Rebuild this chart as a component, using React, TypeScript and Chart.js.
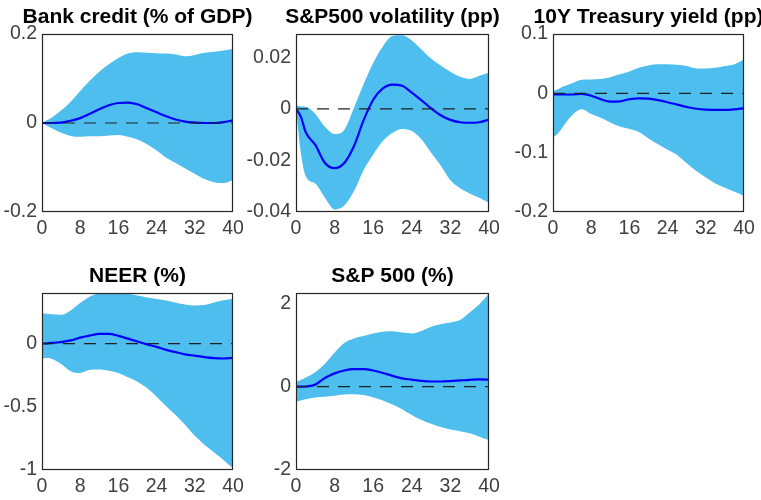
import React, { useEffect, useRef } from 'react';
import { Chart, registerables } from 'chart.js';

Chart.register(...registerables);

// ---------- data ----------
const HORIZONS = [0, 1, 2, 4, 6, 8, 10, 12, 14, 16, 18, 20, 22, 24, 26, 28, 30, 32, 34, 36, 38, 40];
const X_TICKS = [0, 8, 16, 24, 32, 40];

const bankMedian = [0, 0, 0, 0.001, 0.005, 0.011, 0.021, 0.031, 0.040, 0.045, 0.046, 0.042, 0.033, 0.024, 0.015, 0.008, 0.003, 0.001, 0, 0, 0.002, 0.006];
const bankUpper = [0, 0.006, 0.012, 0.028, 0.048, 0.072, 0.095, 0.115, 0.132, 0.146, 0.156, 0.159, 0.158, 0.157, 0.156, 0.154, 0.150, 0.153, 0.158, 0.160, 0.163, 0.167];
const bankLower = [0, -0.006, -0.012, -0.022, -0.029, -0.031, -0.030, -0.030, -0.028, -0.027, -0.031, -0.037, -0.048, -0.062, -0.078, -0.090, -0.102, -0.114, -0.126, -0.133, -0.135, -0.128];
const bankTicks = [-0.2, 0, 0.2];

const volMedian = [0, -0.003, -0.009, -0.014, -0.021, -0.023, -0.021, -0.0145, -0.0045, 0.0035, 0.0079, 0.0094, 0.0089, 0.0063, 0.0033, 0.0002, -0.0025, -0.0043, -0.0052, -0.0054, -0.0052, -0.0042];
const volUpper = [0.0013, 0.0009, 0.0008, -0.002, -0.007, -0.0098, -0.0082, 0.0003, 0.0095, 0.0178, 0.0242, 0.0282, 0.0285, 0.0265, 0.0230, 0.0195, 0.0168, 0.0144, 0.0124, 0.0116, 0.0128, 0.0141];
const volLower = [0, -0.017, -0.026, -0.029, -0.0345, -0.039, -0.0375, -0.032, -0.0238, -0.0177, -0.0125, -0.0093, -0.0078, -0.0086, -0.0118, -0.017, -0.022, -0.0277, -0.0308, -0.0328, -0.0345, -0.0364];
const volTicks = [-0.04, -0.02, 0, 0.02];

const yieldMedian = [-0.002, -0.002, -0.002, -0.002, -0.001, -0.004, -0.010, -0.014, -0.0135, -0.010, -0.0085, -0.009, -0.0115, -0.015, -0.019, -0.023, -0.026, -0.0275, -0.028, -0.028, -0.027, -0.025];
const yieldUpper = [0.004, 0.007, 0.011, 0.017, 0.023, 0.0235, 0.024, 0.027, 0.032, 0.037, 0.043, 0.047, 0.049, 0.049, 0.048, 0.046, 0.042, 0.042, 0.043, 0.046, 0.049, 0.057];
const yieldLower = [-0.074, -0.068, -0.057, -0.037, -0.027, -0.035, -0.041, -0.049, -0.056, -0.060, -0.065, -0.076, -0.086, -0.095, -0.104, -0.118, -0.131, -0.142, -0.152, -0.159, -0.166, -0.173];
const yieldTicks = [-0.2, -0.1, 0, 0.1];

const neerMedian = [0, 0.002, 0.005, 0.012, 0.025, 0.047, 0.063, 0.076, 0.076, 0.061, 0.039, 0.016, -0.006, -0.026, -0.05, -0.068, -0.085, -0.096, -0.107, -0.115, -0.118, -0.113];
const neerUpper = [0.237, 0.236, 0.232, 0.228, 0.262, 0.32, 0.37, 0.398, 0.402, 0.400, 0.394, 0.38, 0.364, 0.352, 0.34, 0.323, 0.31, 0.302, 0.305, 0.325, 0.342, 0.355];
const neerLower = [-0.118, -0.115, -0.12, -0.162, -0.218, -0.232, -0.208, -0.205, -0.215, -0.232, -0.267, -0.302, -0.352, -0.42, -0.495, -0.565, -0.645, -0.73, -0.80, -0.86, -0.92, -0.987];
const neerTicks = [-1, -0.5, 0];

const spMedian = [0, 0, 0.005, 0.05, 0.21, 0.32, 0.39, 0.42, 0.42, 0.39, 0.33, 0.26, 0.2, 0.17, 0.14, 0.125, 0.125, 0.135, 0.15, 0.165, 0.175, 0.17];
const spUpper = [0.12, 0.16, 0.22, 0.35, 0.55, 0.82, 1.05, 1.16, 1.22, 1.28, 1.32, 1.33, 1.3, 1.28, 1.34, 1.44, 1.5, 1.54, 1.6, 1.78, 1.98, 2.24];
const spLower = [-0.36, -0.33, -0.3, -0.26, -0.24, -0.22, -0.19, -0.18, -0.2, -0.26, -0.33, -0.43, -0.54, -0.68, -0.8, -0.89, -0.97, -1.03, -1.07, -1.12, -1.2, -1.28];
const spTicks = [-2, 0, 2];

// ---------- panels ----------
const PANELS = [
  { title: 'Bank credit (% of GDP)', median: bankMedian, upper: bankUpper, lower: bankLower, ticks: bankTicks, yMin: -0.2, yMax: 0.2, box: [42, 34, 233, 212] },
  { title: 'S&P500 volatility (pp)', median: volMedian, upper: volUpper, lower: volLower, ticks: volTicks, yMin: -0.04, yMax: 0.029, box: [296, 34, 489, 212] },
  { title: '10Y Treasury yield (pp)', median: yieldMedian, upper: yieldUpper, lower: yieldLower, ticks: yieldTicks, yMin: -0.2, yMax: 0.1, box: [553, 34, 744, 212] },
  { title: 'NEER (%)', median: neerMedian, upper: neerUpper, lower: neerLower, ticks: neerTicks, yMin: -1, yMax: 0.4, box: [42, 293, 233, 470] },
  { title: 'S&P 500 (%)', median: spMedian, upper: spUpper, lower: spLower, ticks: spTicks, yMin: -2, yMax: 2.25, box: [296, 293, 489, 470] },
];

const ML = 70, MT = 40, MR = 40, MB = 40;
const Y_AXIS_W = 50, X_AXIS_H = 30;
const FONT = '"Liberation Sans", Arial, Helvetica, sans-serif';
const BAND = '#4DBEEE';
const LINE = '#0000FF';
const AXIS = '#262626';
const TICK_TEXT = '#404040';

const framePlugin = {
  id: 'frameTitle',
  afterDraw(chart: any, _args: any, opts: any) {
    const { ctx, chartArea } = chart;
    const { left, top, right, bottom } = chartArea;
    ctx.save();
    ctx.strokeStyle = AXIS;
    ctx.lineWidth = 1.2;
    ctx.strokeRect(Math.round(left) + 0.5, Math.round(top) + 0.5, Math.round(right - left) - 1, Math.round(bottom - top) - 1);
    ctx.fillStyle = '#000';
    ctx.font = `bold 21px ${FONT}`;
    ctx.textAlign = 'center';
    ctx.textBaseline = 'middle';
    ctx.fillText(opts.text, (left + right) / 2, top - 17);
    ctx.restore();
  },
};

function Panel({ p }: { p: typeof PANELS[number] }) {
  const ref = useRef<HTMLCanvasElement>(null);
  const [x0, y0, x1, y1] = p.box;
  const W = x1 - x0 + ML + MR;
  const H = y1 - y0 + MT + MB;

  useEffect(() => {
    if (!ref.current) return;
    const pts = (arr: number[]) => HORIZONS.map((h, i) => ({ x: h, y: arr[i] }));
    const chart = new Chart(ref.current, {
      type: 'line',
      data: {
        datasets: [
          {
            data: [{ x: 0, y: 0 }, { x: 40, y: 0 }],
            borderColor: '#222',
            borderWidth: 1.2,
            borderDash: [12, 9],
            pointRadius: 0,
            fill: false,
            order: 0,
          },
          {
            data: pts(p.median),
            borderColor: LINE,
            borderWidth: 2.2,
            pointRadius: 0,
            tension: 0.4,
            cubicInterpolationMode: 'monotone',
            fill: false,
            order: 1,
          },
          {
            data: pts(p.upper),
            borderWidth: 0,
            borderColor: BAND,
            backgroundColor: BAND,
            pointRadius: 0,
            cubicInterpolationMode: 'monotone',
            fill: '+1',
            order: 2,
          },
          {
            data: pts(p.lower),
            borderWidth: 0,
            borderColor: BAND,
            backgroundColor: BAND,
            pointRadius: 0,
            cubicInterpolationMode: 'monotone',
            fill: false,
            order: 3,
          },
        ],
      },
      options: {
        responsive: false,
        animation: false,
        devicePixelRatio: 1,
        layout: { padding: { left: ML - Y_AXIS_W, top: MT, right: MR, bottom: MB - X_AXIS_H } },
        plugins: {
          legend: { display: false },
          tooltip: { enabled: false },
          title: { display: false },
          frameTitle: { text: p.title },
        } as any,
        scales: {
          x: {
            type: 'linear',
            min: 0,
            max: 40,
            grid: { display: false, drawTicks: false, tickLength: 0 },
            border: { display: false },
            afterBuildTicks: (s: any) => { s.ticks = X_TICKS.map((v) => ({ value: v })); },
            afterFit: (s: any) => { s.height = X_AXIS_H; },
            ticks: {
              autoSkip: false,
              maxRotation: 0,
              padding: 5,
              color: TICK_TEXT,
              font: { family: FONT, size: 19.5 },
              callback: (v: any) => String(v),
            },
          },
          y: {
            type: 'linear',
            min: p.yMin,
            max: p.yMax,
            grid: { display: false, drawTicks: false, tickLength: 0 },
            border: { display: false },
            afterBuildTicks: (s: any) => { s.ticks = p.ticks.map((v) => ({ value: v })); },
            afterFit: (s: any) => { s.width = Y_AXIS_W; },
            ticks: {
              autoSkip: false,
              padding: 5,
              color: TICK_TEXT,
              font: { family: FONT, size: 19.5 },
              callback: (v: any) => String(v),
            },
          },
        },
      },
      plugins: [framePlugin],
    } as any);
    return () => chart.destroy();
  }, []);

  return (
    <canvas
      ref={ref}
      width={W}
      height={H}
      style={{ position: 'absolute', left: x0 - ML, top: y0 - MT, width: W, height: H }}
    />
  );
}

export default function App() {
  return (
    <div
      style={{
        position: 'fixed',
        left: 0,
        top: 0,
        width: 761,
        height: 500,
        overflow: 'hidden',
        background: '#fff',
      }}
    >
      {PANELS.map((p, i) => (
        <Panel key={i} p={p} />
      ))}
    </div>
  );
}
